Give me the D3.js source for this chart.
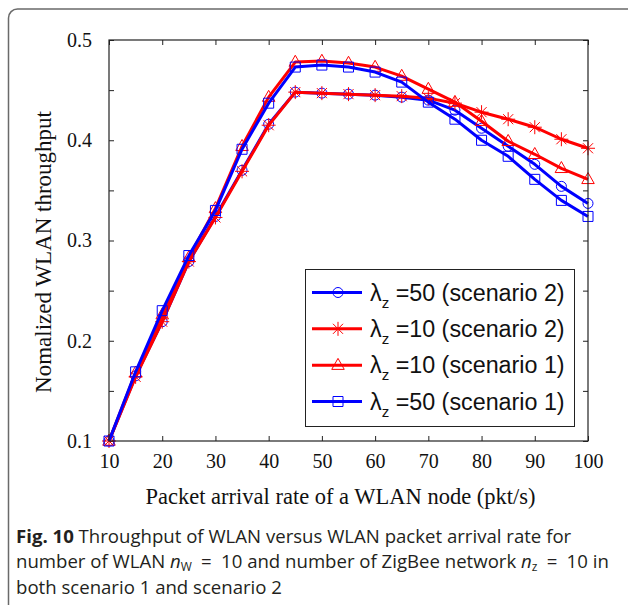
<!DOCTYPE html>
<html><head><meta charset="utf-8">
<script src="https://cdn.jsdelivr.net/npm/d3@7"></script>
<style>body{margin:0;background:#fff;} svg{display:block}</style>
</head><body><svg id="c" width="628" height="605"></svg>
<script>
// ---- data ----
const xValues = [10,15,20,25,30,35,40,45,50,55,60,65,70,75,80,85,90,95,100];
const circleScenario2   = [0.100,0.165,0.219,0.279,0.324,0.370,0.416,0.448,0.447,0.446,0.445,0.443,0.440,0.430,0.412,0.394,0.376,0.354,0.337];
const starScenario2     = [0.100,0.164,0.219,0.279,0.323,0.369,0.415,0.448,0.447,0.446,0.445,0.444,0.442,0.437,0.428,0.421,0.413,0.401,0.392];
const triangleScenario1 = [0.100,0.168,0.226,0.283,0.332,0.394,0.443,0.478,0.479,0.477,0.473,0.464,0.451,0.438,0.419,0.399,0.386,0.372,0.361];
const squareScenario1   = [0.100,0.169,0.230,0.285,0.330,0.391,0.437,0.473,0.475,0.473,0.468,0.458,0.438,0.421,0.400,0.384,0.361,0.340,0.324];
const lambdaValues = ["50","10","10","50"];
const scenarioLabels = ["(scenario 2)","(scenario 2)","(scenario 1)","(scenario 1)"];
const xTickValues = [10,20,30,40,50,60,70,80,90,100];
const yTickValues = [0.1,0.15,0.2,0.25,0.3,0.35,0.4,0.45,0.5];
const yTickLabels = ["0.1","0.2","0.3","0.4","0.5"];
const xAxisTitle = "Packet arrival rate of a WLAN node (pkt/s)";
const yAxisTitle = "Nomalized WLAN throughput";

const series = [
  {values: circleScenario2, color:"#0000ff", marker:"circle"},
  {values: starScenario2, color:"#ff0000", marker:"star"},
  {values: triangleScenario1, color:"#ff0000", marker:"triangle"},
  {values: squareScenario1, color:"#0000ff", marker:"square"}
];
series.forEach((s,i)=>{s.lambda=lambdaValues[i]; s.scen=scenarioLabels[i];});

const svg = d3.select("#c");
// outer figure border
svg.append("rect").attr("x",8.5).attr("y",9).attr("width",700).attr("height",700).attr("rx",9)
  .attr("fill","none").attr("stroke","#6a6a6a").attr("stroke-width",1.5);

const L=109, R=588, T=40, B=441;
const x = d3.scaleLinear().domain([10,100]).range([L,R]);
const y = d3.scaleLinear().domain([0.1,0.5]).range([B,T]);

const serif = "'Liberation Serif','Times New Roman',serif";
const sans = "'Liberation Sans',Arial,Helvetica,sans-serif";

// axes
const gx = svg.append("g").attr("transform",`translate(0,${B})`)
  .call(d3.axisBottom(x).tickValues(xTickValues).tickSizeInner(-5).tickSizeOuter(0).tickPadding(13).tickFormat(d3.format("d")));
const gxt = svg.append("g").attr("transform",`translate(0,${T})`)
  .call(d3.axisTop(x).tickValues(xTickValues).tickSizeInner(-5).tickSizeOuter(0).tickFormat(""));
const gy = svg.append("g").attr("transform",`translate(${L},0)`)
  .call(d3.axisLeft(y).tickValues(yTickValues).tickSizeInner(-5).tickSizeOuter(0).tickPadding(17)
    .tickFormat(d=>{const s=d3.format(".1f")(d); return yTickLabels.includes(s)&&Math.abs(d*10-Math.round(d*10))<1e-6?s:"";}));
const gyr = svg.append("g").attr("transform",`translate(${R},0)`)
  .call(d3.axisRight(y).tickValues(yTickValues).tickSizeInner(-5).tickSizeOuter(0).tickFormat(""));
[gx,gxt,gy,gyr].forEach(g=>{
  g.select(".domain").remove();
  g.selectAll(".tick line").attr("stroke","#222").attr("stroke-width",1);
  g.selectAll("text").attr("font-family",serif).attr("font-size",20).attr("fill","#111");
});

// series
const line = d3.line().x((d,i)=>x(xValues[i])).y(d=>y(d));
function markerPath(type){
  const p = d3.path();
  if(type==="circle"){ p.arc(0,0,5,0,2*Math.PI); }
  else if(type==="square"){ p.rect(-5,-5,10,10); }
  else if(type==="triangle"){ const r=6.8; p.moveTo(0,-r); p.lineTo(r*0.92,r*0.62); p.lineTo(-r*0.92,r*0.62); p.closePath(); }
  else if(type==="star"){ const r=7, q=r*0.72;
    p.moveTo(0,-r);p.lineTo(0,r);p.moveTo(-r,0);p.lineTo(r,0);
    p.moveTo(-q,-q);p.lineTo(q,q);p.moveTo(-q,q);p.lineTo(q,-q); }
  return p.toString();
}
const plot = svg.append("g");
series.forEach(s=>{
  const g = plot.append("g");
  g.append("path").attr("d",line(s.values)).attr("fill","none").attr("stroke",s.color)
    .attr("stroke-width",3).attr("stroke-linejoin","round");
  g.selectAll("path.m").data(s.values).join("path").attr("class","m")
    .attr("transform",(d,i)=>`translate(${x(xValues[i])},${y(d)})`)
    .attr("d",markerPath(s.marker)).attr("fill","none").attr("stroke",s.color).attr("stroke-width",1);
});

// box
svg.append("rect").attr("x",L).attr("y",T).attr("width",R-L).attr("height",B-T)
  .attr("fill","none").attr("stroke","#222").attr("stroke-width",1.2);

// legend
const lg = svg.append("g");
lg.append("rect").attr("x",305.5).attr("y",269.5).attr("width",269).attr("height",157)
  .attr("fill","#fff").attr("stroke","#222").attr("stroke-width",1);
const rowY = d3.scalePoint().domain(d3.range(series.length)).range([292.5,401.5]);
series.forEach((s,i)=>{
  const yy = rowY(i);
  lg.append("line").attr("x1",312).attr("x2",362).attr("y1",yy).attr("y2",yy).attr("stroke",s.color).attr("stroke-width",3);
  lg.append("path").attr("transform",`translate(338,${yy})`).attr("d",markerPath(s.marker))
    .attr("fill","none").attr("stroke",s.color).attr("stroke-width",1);
  const t = lg.append("text").attr("x",370).attr("y",yy+8).attr("font-family",sans).attr("font-size",23.3).attr("fill","#111");
  t.append("tspan").text("λ");
  t.append("tspan").attr("dy",7).attr("font-size",15).text("z");
  t.append("tspan").attr("dy",-7).text(" =" + s.lambda + " " + s.scen);
});

// axis titles
svg.append("text").attr("x",340.5).attr("y",504).attr("text-anchor","middle")
  .attr("font-family",serif).attr("font-size",22.5).attr("fill","#111").text(xAxisTitle);
svg.append("text").attr("transform","translate(51,252) rotate(-90)").attr("text-anchor","middle")
  .attr("font-family",serif).attr("font-size",23).attr("fill","#111").text(yAxisTitle);

// caption
const capFont = "'Open Sans','Noto Sans',sans-serif";
const cap = svg.append("g").attr("font-family",capFont).attr("font-size",18.6).attr("fill","#231f20");
const c1 = cap.append("text").attr("x",16).attr("y",543);
c1.append("tspan").attr("font-weight","bold").text("Fig. 10");
c1.append("tspan").text(" Throughput of WLAN versus WLAN packet arrival rate for");
const c2 = cap.append("text").attr("x",16).attr("y",568);
c2.append("tspan").text("number of WLAN ");
c2.append("tspan").attr("font-style","italic").text("n");
c2.append("tspan").attr("dy",3).attr("font-size",12).text("W");
c2.append("tspan").attr("dy",-3).text("\u2002=\u200210 and number of ZigBee network ");
c2.append("tspan").attr("font-style","italic").text("n");
c2.append("tspan").attr("dy",3).attr("font-size",12).text("z");
c2.append("tspan").attr("dy",-3).text("\u2002=\u200210 in");
cap.append("text").attr("x",16).attr("y",594).text("both scenario 1 and scenario 2");
</script></body></html>
